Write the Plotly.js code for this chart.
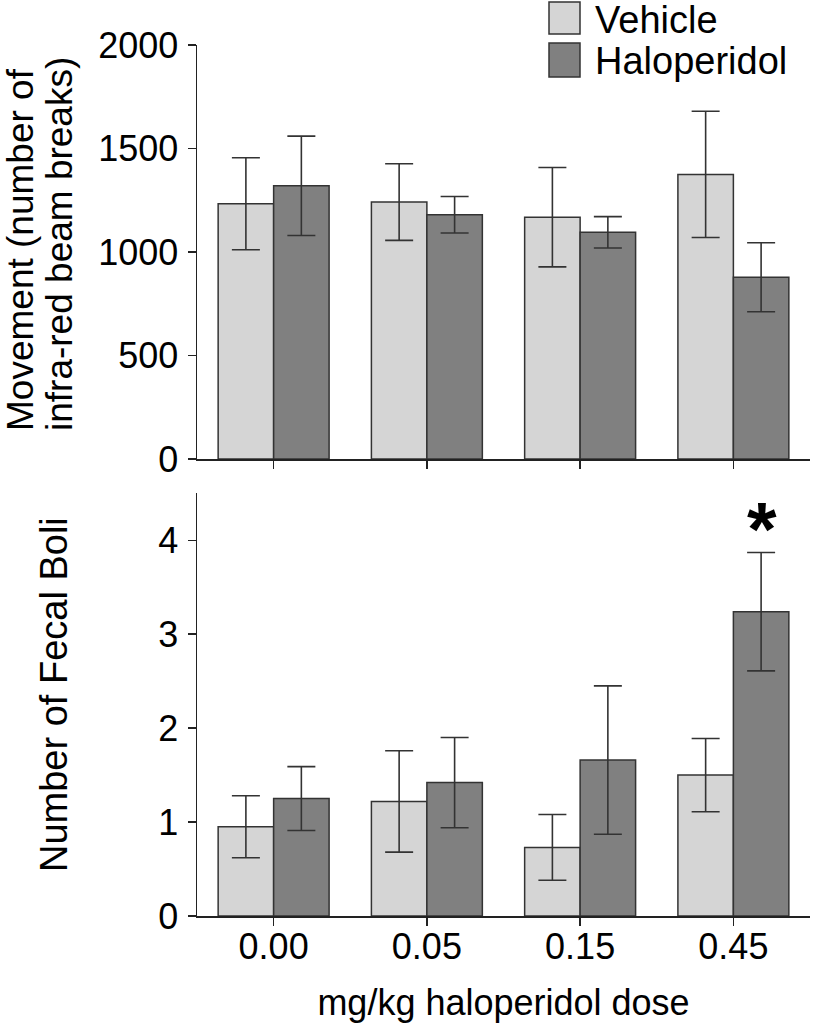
<!DOCTYPE html>
<html>
<head>
<meta charset="utf-8">
<script src="https://cdn.plot.ly/plotly-3.0.1.min.js"></script>
<style>html,body{margin:0;padding:0;background:#fff;}#chart{width:814px;height:1026px;}</style>
</head>
<body>
<div id="chart"></div>
<script>
// ---- data ----
const doses = ['0.00', '0.05', '0.15', '0.45'];
const seriesNames = ['Vehicle', 'Haloperidol'];

const movementVehicle = [1233, 1241, 1168, 1375];
const movementVehicleErr = [222, 185, 240, 305];
const movementHalo = [1320, 1180, 1095, 878];
const movementHaloErr = [240, 88, 76, 167];

const boliVehicle = [0.95, 1.22, 0.73, 1.50];
const boliVehicleErr = [0.33, 0.54, 0.35, 0.39];
const boliHalo = [1.25, 1.42, 1.66, 3.24];
const boliHaloErr = [0.34, 0.48, 0.79, 0.63];

const sigLabel = '*';
const sigIndex = 3;

const yTitleTopLines = ['Movement (number of', 'infra-red beam breaks)'];
const yTitleBottom = 'Number of Fecal Boli';
const xTitle = 'mg/kg haloperidol dose';

// ---- style ----
const FONT = 'Liberation Sans, Arial, Helvetica, sans-serif';
const colVeh = '#d5d5d5';
const colHalo = '#808080';
const lineCol = '#333333';
const axCol = '#222222';
const TICKSIZE = 36;

function barTrace(y, err, name, color, xa, ya) {
  return {
    type: 'bar', x: doses, y: y, name: name, xaxis: xa, yaxis: ya,
    marker: {color: color, line: {color: lineCol, width: 1.5}},
    error_y: {type: 'data', array: err, visible: true, color: lineCol, thickness: 1.6, width: 14},
    showlegend: false, hoverinfo: 'skip'
  };
}

const data = [
  barTrace(movementVehicle, movementVehicleErr, seriesNames[0], colVeh, 'x', 'y'),
  barTrace(movementHalo, movementHaloErr, seriesNames[1], colHalo, 'x', 'y'),
  barTrace(boliVehicle, boliVehicleErr, seriesNames[0], colVeh, 'x2', 'y2'),
  barTrace(boliHalo, boliHaloErr, seriesNames[1], colHalo, 'x2', 'y2')
];

const L = 197, R = 4, T = 45, B = 110, W = 814, H = 1026;
const pw = W - L - R, ph = H - T - B;
const px2x = p => (p - L) / pw;
const py2y = p => (H - B - p) / ph;

const commonX = {
  type: 'category', range: [-0.5, 3.5], showline: true, linecolor: axCol, linewidth: 1.5,
  ticks: 'outside', ticklen: 8, tickcolor: axCol, tickwidth: 1.5,
  tickmode: 'array', tickvals: [0, 1, 2, 3], showgrid: false, zeroline: false, fixedrange: true
};
const commonY = {
  showline: true, linecolor: axCol, linewidth: 1.5, ticks: 'outside', ticklen: 8,
  tickcolor: axCol, tickwidth: 1.5, showgrid: false, zeroline: false, ticklabelstandoff: 2,
  tickfont: {family: FONT, size: TICKSIZE, color: '#000'}
};

const legendShapes = [
  {type: 'rect', xref: 'paper', yref: 'paper', x0: px2x(549), x1: px2x(580), y0: py2y(34), y1: py2y(2),
   fillcolor: colVeh, line: {color: lineCol, width: 1.5}},
  {type: 'rect', xref: 'paper', yref: 'paper', x0: px2x(549), x1: px2x(580), y0: py2y(77), y1: py2y(43),
   fillcolor: colHalo, line: {color: lineCol, width: 1.5}}
];

const annotations = [
  {xref: 'paper', yref: 'paper', x: px2x(593), y: py2y(20), xanchor: 'left', yanchor: 'middle',
   text: seriesNames[0], showarrow: false, font: {family: FONT, size: 38, color: '#000'}},
  {xref: 'paper', yref: 'paper', x: px2x(593), y: py2y(61), xanchor: 'left', yanchor: 'middle',
   text: seriesNames[1], showarrow: false, font: {family: FONT, size: 38, color: '#000'}},
  {xref: 'paper', yref: 'paper', x: px2x(21), y: py2y(250), xanchor: 'center', yanchor: 'middle',
   text: yTitleTopLines[0], textangle: -90, showarrow: false, font: {family: FONT, size: 37, color: '#000'}},
  {xref: 'paper', yref: 'paper', x: px2x(59), y: py2y(244), xanchor: 'center', yanchor: 'middle',
   text: yTitleTopLines[1], textangle: -90, showarrow: false, font: {family: FONT, size: 37, color: '#000'}},
  {xref: 'paper', yref: 'paper', x: px2x(54), y: py2y(695), xanchor: 'center', yanchor: 'middle',
   text: yTitleBottom, textangle: -90, showarrow: false, font: {family: FONT, size: 38, color: '#000'}},
  {xref: 'x2', yref: 'y2', x: sigIndex + 0.19, y: 4.12, xanchor: 'center', yanchor: 'middle',
   text: '<b>' + sigLabel + '</b>', showarrow: false, font: {family: FONT, size: 76, color: '#000'}}
];

const layout = {
  width: W, height: H,
  margin: {l: L, r: R, t: T, b: B},
  paper_bgcolor: '#fff', plot_bgcolor: '#fff',
  barmode: 'group', bargap: 0.276, bargroupgap: 0,
  font: {family: FONT, color: '#000'},
  showlegend: false,
  xaxis: Object.assign({}, commonX, {anchor: 'y', showticklabels: false}),
  yaxis: Object.assign({}, commonY, {domain: [py2y(459), 1], range: [0, 2000], tickvals: [0, 500, 1000, 1500, 2000], anchor: 'x'}),
  xaxis2: Object.assign({}, commonX, {anchor: 'y2', showticklabels: true, ticktext: doses,
    ticklabelstandoff: -10,
    tickfont: {family: FONT, size: TICKSIZE, color: '#000'},
    title: {text: xTitle, font: {family: FONT, size: 36, color: '#000'}, standoff: 24}}),
  yaxis2: Object.assign({}, commonY, {domain: [0, py2y(493.3)], range: [0, 4.5], tickvals: [0, 1, 2, 3, 4], anchor: 'x2'}),
  shapes: legendShapes,
  annotations: annotations
};

Plotly.newPlot('chart', data, layout, {staticPlot: true, displayModeBar: false});
</script>
</body>
</html>
